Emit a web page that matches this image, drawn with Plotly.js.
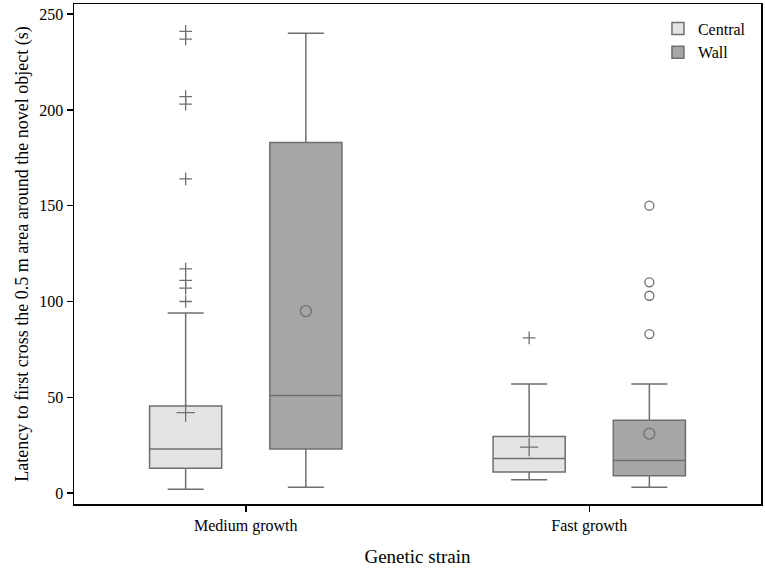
<!DOCTYPE html>
<html>
<head>
<meta charset="utf-8">
<script src="https://cdn.plot.ly/plotly-3.0.1.min.js"></script>
<style>
  html, body { margin: 0; padding: 0; background: #fff; }
  #chart { width: 765px; height: 568px; }
</style>
</head>
<body>
<div id="chart"></div>
<script>
// Box summaries (seconds)
const categories = ["Medium growth", "Fast growth"];
const groups = ["Central", "Wall"];

const centralLower  = [2, 7];
const centralQ1     = [13, 11];
const centralMedian = [23, 18];
const centralQ3     = [45.5, 29.5];
const centralUpper  = [94, 57];
const centralMean   = [42, 24];
const centralOutliers = [
  [100, 107, 111, 117, 164, 203, 207, 237, 241],
  [81]
];

const wallLower  = [3, 3];
const wallQ1     = [23, 9];
const wallMedian = [51, 17];
const wallQ3     = [183, 38];
const wallUpper  = [240, 57];
const wallMean   = [95, 31];
const wallOutliers = [
  [],
  [83, 103, 110, 150]
];

// ── styling ─────────────────────────────────────
const FONT = "'Liberation Serif', 'DejaVu Serif', serif";
const LINE = "#6f6f6f";
const FILL = { Central: "#e4e4e4", Wall: "#a6a6a6" };
const OFFSET = { Central: -0.175, Wall: 0.175 };
const BOX_W = 0.21;

function pos(g) {
  return categories.map((c, i) => i + OFFSET[g]);
}

function boxTrace(g, lower, q1, med, q3, upper) {
  return {
    type: "box",
    name: g,
    x: pos(g),
    lowerfence: lower,
    q1: q1,
    median: med,
    q3: q3,
    upperfence: upper,
    width: BOX_W,
    whiskerwidth: 0.5,
    fillcolor: FILL[g],
    line: { color: LINE, width: 1.5 },
    boxpoints: false,
    hoverinfo: "skip",
  };
}

function outlierTrace(g, outliers, symbol) {
  const xs = [], ys = [];
  outliers.forEach((arr, i) => {
    arr.forEach(v => { xs.push(i + OFFSET[g]); ys.push(v); });
  });
  return {
    type: "scatter", mode: "markers", x: xs, y: ys,
    showlegend: false, hoverinfo: "skip",
    marker: { symbol: symbol, size: 9, color: LINE, line: { color: LINE, width: 1.3 } },
  };
}

function meanTrace(g, means, symbol, size) {
  return {
    type: "scatter", mode: "markers", x: pos(g), y: means,
    showlegend: false, hoverinfo: "skip",
    marker: { symbol: symbol, size: size, color: LINE, line: { color: LINE, width: 1.3 } },
  };
}

const data = [
  boxTrace("Central", centralLower, centralQ1, centralMedian, centralQ3, centralUpper),
  boxTrace("Wall", wallLower, wallQ1, wallMedian, wallQ3, wallUpper),
  outlierTrace("Central", centralOutliers, "cross-thin-open"),
  outlierTrace("Wall", wallOutliers, "circle-open"),
  meanTrace("Central", centralMean, "cross-thin-open", 13),
  meanTrace("Wall", wallMean, "circle-open", 11),
];

const layout = {
  width: 765,
  height: 568,
  paper_bgcolor: "#fff",
  plot_bgcolor: "#fff",
  font: { family: FONT, size: 16, color: "#000" },
  margin: { l: 74, r: 4, t: 4, b: 64 },
  showlegend: true,
  legend: {
    x: 0.85, xanchor: "left",
    y: 0.985, yanchor: "top",
    font: { family: FONT, size: 16, color: "#000" },
    bgcolor: "rgba(0,0,0,0)",
    tracegroupgap: 0,
  },
  xaxis: {
    range: [-0.5, 1.5],
    tickvals: categories.map((c, i) => i),
    ticktext: categories,
    ticks: "outside",
    ticklen: 6,
    tickcolor: "#000",
    tickwidth: 1.5,
    showgrid: false,
    zeroline: false,
    showline: true,
    linecolor: "#000",
    linewidth: 1.5,
    mirror: true,
    title: { text: "Genetic strain", font: { family: FONT, size: 19 }, standoff: 16 },
  },
  yaxis: {
    range: [-5.7, 255.3],
    tickvals: [0, 50, 100, 150, 200, 250],
    ticks: "outside",
    ticklen: 6,
    tickcolor: "#000",
    tickwidth: 1.5,
    showgrid: false,
    zeroline: false,
    showline: true,
    linecolor: "#000",
    linewidth: 1.5,
    mirror: true,
    title: {
      text: "Latency to first cross the 0.5 m area around the novel object (s)",
      font: { family: FONT, size: 18 },
      standoff: 6,
    },
  },
};

Plotly.newPlot("chart", data, layout, { displayModeBar: false, staticPlot: true });
</script>
</body>
</html>
